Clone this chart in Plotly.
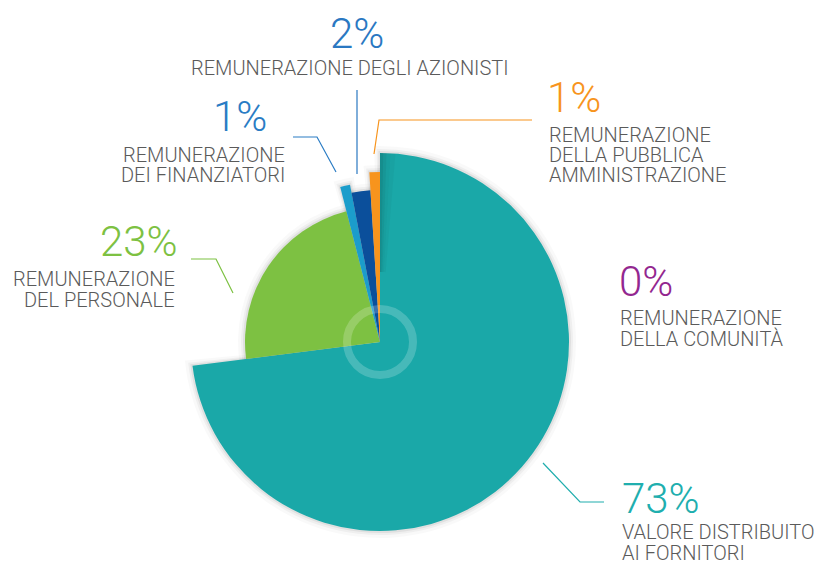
import plotly.graph_objects as go

# ---- data ----
categories = [
    "VALORE DISTRIBUITO AI FORNITORI",
    "REMUNERAZIONE DEL PERSONALE",
    "REMUNERAZIONE DEI FINANZIATORI",
    "REMUNERAZIONE DEGLI AZIONISTI",
    "REMUNERAZIONE DELLA PUBBLICA AMMINISTRAZIONE",
    "REMUNERAZIONE DELLA COMUNITÀ",
]
percent = [73, 23, 1, 2, 1, 0]
pct_labels = ["73%", "23%", "1%", "2%", "1%", "0%"]
label_lines = [
    ["VALORE DISTRIBUITO", "AI FORNITORI"],
    ["REMUNERAZIONE", "DEL PERSONALE"],
    ["REMUNERAZIONE", "DEI FINANZIATORI"],
    ["REMUNERAZIONE DEGLI AZIONISTI"],
    ["REMUNERAZIONE", "DELLA PUBBLICA", "AMMINISTRAZIONE"],
    ["REMUNERAZIONE", "DELLA COMUNITÀ"],
]

# ---- style ----
slice_colors = ["#1aa8a8", "#7dc142", "#1b9dcb", "#0b4f9b", "#f7941d", "#93278f"]
label_colors = ["#20aeae", "#7dc142", "#2a7cc4", "#2a78c2", "#f7941d", "#93278f"]
slice_radius = [189, 135, 160, 152, 170, 0]
W, H = 814, 561
CX, CY, RMAX = 380, 342, 200

def px(x):
    return x / W

def py(y):
    return 1 - y / H

# angular positions derived from the data
starts, widths = [], []
acc = 0.0
for p in percent:
    starts.append(acc)
    widths.append(p * 3.6)
    acc += p * 3.6
centers = [s + w / 2 for s, w in zip(starts, widths)]

fig = go.Figure()

# soft halo behind the slices
for grow, alpha in [(7, 0.025), (4, 0.04), (2, 0.06)]:
    fig.add_trace(go.Barpolar(
        r=[r + grow if r > 0 else 0 for r in slice_radius],
        theta=centers,
        width=[w + (grow * 0.5 if w > 0 else 0) for w in widths],
        marker=dict(color=f"rgba(0,0,0,{alpha})", line=dict(width=0)),
        hoverinfo="skip", showlegend=False,
    ))

fig.add_trace(go.Barpolar(
    r=slice_radius,
    theta=centers,
    width=widths,
    marker=dict(color=slice_colors, line=dict(width=0)),
    hovertext=categories,
    showlegend=False,
))

# shading cast on the large slice next to the small ones
shade_w = [1.0, 1.0, 1.2, 1.5]
shade_a = [0.16, 0.10, 0.06, 0.03]
s0 = starts[0]
for w, a in zip(shade_w, shade_a):
    fig.add_trace(go.Barpolar(
        r=[slice_radius[0] - 70], base=[70], theta=[s0 + w / 2], width=[w],
        marker=dict(color=f"rgba(0,0,0,{a})", line=dict(width=0)),
        hoverinfo="skip", showlegend=False,
    ))
    s0 += w

fig.update_layout(
    width=W, height=H,
    margin=dict(l=0, r=0, t=0, b=0),
    paper_bgcolor="white",
    plot_bgcolor="white",
    polar=dict(
        domain=dict(x=[px(CX - RMAX), px(CX + RMAX)], y=[py(CY + RMAX), py(CY - RMAX)]),
        bgcolor="rgba(0,0,0,0)",
        radialaxis=dict(range=[0, RMAX], visible=False),
        angularaxis=dict(direction="clockwise", rotation=90, visible=False),
        bargap=0,
        barmode="overlay",
    ),
)

# center ring
ring_r = 33
fig.add_shape(type="circle", xref="paper", yref="paper",
              x0=px(CX - ring_r), x1=px(CX + ring_r), y0=py(CY + ring_r), y1=py(CY - ring_r),
              line=dict(color="rgba(255,255,255,0.2)", width=8))

# leader lines (pixel paths)
leaders = [
    ([(543, 463), (580, 502), (604, 502)], label_colors[0]),
    ([(191, 259), (216, 259), (233, 293)], label_colors[1]),
    ([(293, 137), (317, 137), (336, 172)], label_colors[2]),
    ([(357, 90), (357, 174)], label_colors[3]),
    ([(374, 154), (379, 120), (532, 120)], label_colors[4]),
]
for pts, col in leaders:
    path = "M " + " L ".join(f"{px(x)},{py(y)}" for x, y in pts)
    fig.add_shape(type="path", xref="paper", yref="paper", path=path,
                  line=dict(color=col, width=1.2))

FONT = "Roboto"
# label placement: (pct_x, label_x, anchor, pct_y_center, first_line_y_center, line_pitch)
placements = [
    (620, 620, "left", 498, 532, 20.7),
    (180, 177, "right", 241, 279, 20.5),
    (269, 287, "right", 117, 154.5, 20.3),
    (357, 350, "center", 34, 68, 20.5),
    (545, 547, "left", 97.5, 134.5, 20.5),
    (617, 618, "left", 281.5, 318.3, 20.7),
]
for i, (x, lx, anc, yp, y1, pitch) in enumerate(placements):
    fig.add_annotation(x=px(x), y=py(yp), xref="paper", yref="paper",
                       text=pct_labels[i], showarrow=False, xanchor=anc, yanchor="middle",
                       font=dict(family=FONT, size=42, color=label_colors[i], weight=300))
    for j, line in enumerate(label_lines[i]):
        fig.add_annotation(x=px(lx), y=py(y1 + j * pitch), xref="paper", yref="paper",
                           text=line, showarrow=False, xanchor=anc, yanchor="middle",
                           font=dict(family=FONT, size=20, color="#5a5a5a", weight=300))

fig.write_html("out.html", config={"displayModeBar": False},
               post_script="document.body.style.margin='0px';")
